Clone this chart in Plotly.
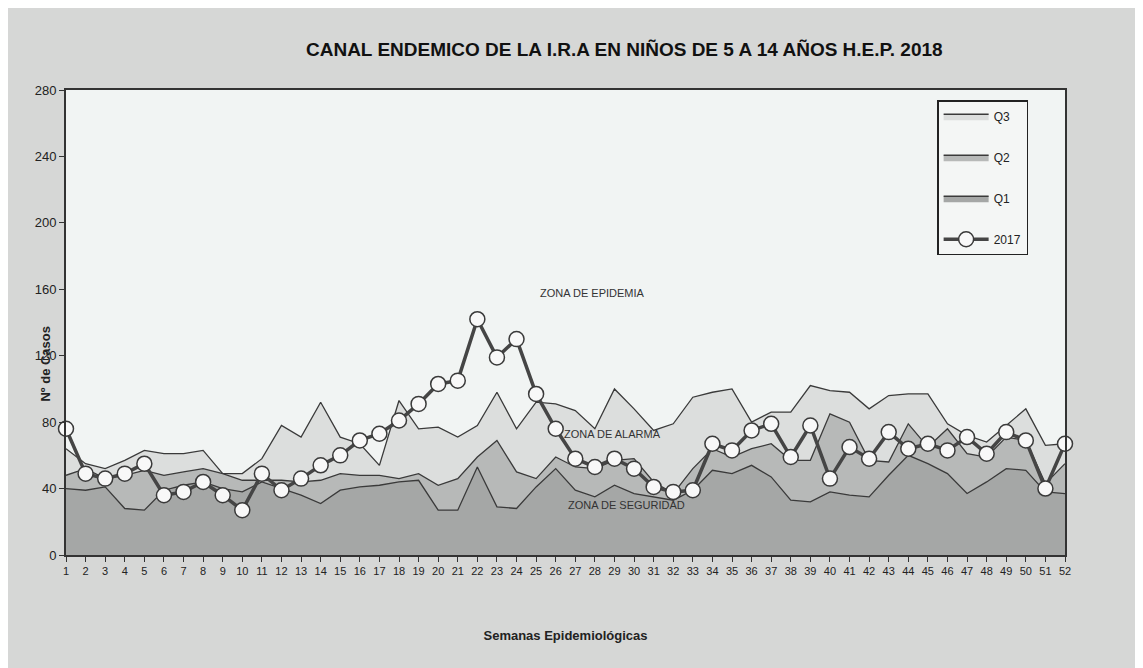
import plotly.graph_objects as go

FONT = "Liberation Sans Narrow, Arial Narrow, Liberation Sans, sans-serif"

weeks = list(range(1, 53))

q3 = [64, 55, 52, 57, 63, 61, 61, 63, 49, 49, 58, 78, 71, 92, 71, 67, 54, 93, 76, 77,
      71, 78, 98, 76, 92, 91, 87, 76, 100, 88, 75, 79, 95, 98, 100, 80, 86, 86, 102, 99,
      98, 88, 96, 97, 97, 79, 72, 68, 78, 88, 66, 67]
q2 = [48, 52, 46, 48, 51, 48, 50, 52, 49, 45, 45, 45, 44, 45, 49, 48, 48, 46, 49, 42,
      46, 59, 69, 50, 46, 59, 53, 52, 57, 58, 44, 37, 52, 64, 59, 64, 67, 57, 57, 85,
      80, 57, 56, 79, 65, 76, 61, 59, 71, 69, 43, 55]
q1 = [40, 39, 41, 28, 27, 39, 42, 44, 40, 38, 44, 40, 36, 31, 39, 41, 42, 44, 45, 27,
      27, 53, 29, 28, 41, 52, 39, 35, 42, 37, 35, 33, 39, 51, 49, 54, 47, 33, 32, 38,
      36, 35, 48, 60, 55, 49, 37, 44, 52, 51, 38, 37]
y2017 = [76, 49, 46, 49, 55, 36, 38, 44, 36, 27, 49, 39, 46, 54, 60, 69, 73, 81, 91, 103,
         105, 142, 119, 130, 97, 76, 58, 53, 58, 52, 41, 38, 39, 67, 63, 75, 79, 59, 78, 46,
         65, 58, 74, 64, 67, 63, 71, 61, 74, 69, 40, 67]

zones = [
    ("ZONA DE EPIDEMIA", 27.9, 158),
    ("ZONA DE ALARMA", 28.9, 73),
    ("ZONA DE SEGURIDAD", 29.6, 30),
]

fig = go.Figure()

for name, vals, fillc in [
    ("Q3", q3, "#dcdedd"),
    ("Q2", q2, "#b7b9b8"),
    ("Q1", q1, "#a5a7a6"),
]:
    fig.add_trace(go.Scatter(
        x=weeks, y=vals, name=name, mode="lines", fill="tozeroy",
        fillcolor=fillc, line=dict(color="#3a3a3a", width=1.3),
        legendgroup=name,
    ))

fig.add_trace(go.Scatter(
    x=weeks, y=y2017, name="2017", mode="lines+markers",
    line=dict(color="#454545", width=3.5),
    marker=dict(size=15, color="#f8f8f8", line=dict(color="#3a3a3a", width=1.5)),
    cliponaxis=False, legendgroup="2017",
))

for text, x, y in zones:
    fig.add_annotation(x=x, y=y, text=text, showarrow=False,
                       font=dict(family=FONT, size=11, color="#333333"))

fig.add_annotation(x=27.7, y=-7, text="ZONA DE EXITO", showarrow=False,
                   font=dict(family=FONT, size=9, color="#555555"))

# y-axis title placed like the original (overlapping the tick labels)
fig.add_annotation(x=-0.031, xref="paper", y=115, yref="y", text="<b>Nº de Casos</b>",
                   textangle=-90, showarrow=False,
                   font=dict(family=FONT, size=13, color="#222222"))

fig.update_layout(
    width=1135, height=660,
    margin=dict(l=58, r=78, t=82, b=113),
    paper_bgcolor="#d6d7d6",
    plot_bgcolor="#f1f4f3",
    font=dict(family=FONT, size=12, color="#222222"),
    title=dict(
        text="<b>CANAL ENDEMICO DE LA I.R.A EN NIÑOS DE 5 A 14 AÑOS H.E.P. 2018</b>",
        x=0.543, xanchor="center", y=0.937, yanchor="middle",
        font=dict(family=FONT, size=19, color="#111111"),
    ),
    showlegend=True,
    legend=dict(
        x=0.872, y=0.978, xanchor="left", yanchor="top",
        bgcolor="#f4f6f5", bordercolor="#222222", borderwidth=1.5,
        tracegroupgap=22, itemwidth=45, font=dict(family=FONT, size=12),
    ),
    xaxis=dict(
        range=[1, 52], tickmode="array", tickvals=weeks,
        ticks="outside", ticklen=5, tickcolor="#333333",
        showline=True, linecolor="#333333", linewidth=2, mirror=True,
        showgrid=False, zeroline=False,
        tickfont=dict(family=FONT, size=11),
        title=dict(text="<b>Semanas Epidemiológicas</b>", standoff=55,
                   font=dict(family=FONT, size=13)),
    ),
    yaxis=dict(
        range=[0, 280], dtick=40,
        ticks="outside", ticklen=5, tickcolor="#333333",
        showline=True, linecolor="#333333", linewidth=2, mirror=True,
        showgrid=False, zeroline=False,
        tickfont=dict(family=FONT, size=13),
    ),
)

fig.write_html("out.html")
